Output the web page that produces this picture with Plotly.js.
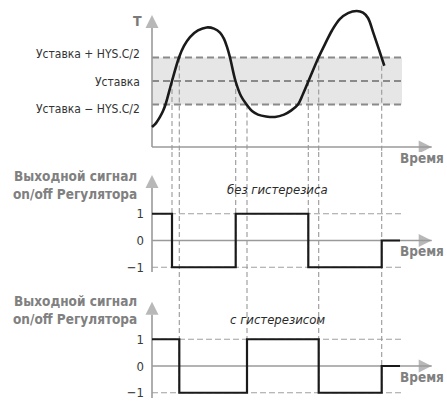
<!DOCTYPE html>
<html><head><meta charset="utf-8">
<script src="https://cdn.plot.ly/plotly-3.0.1.min.js"></script>
<style>html,body{margin:0;padding:0;background:#fff}</style>
</head><body><div id="chart" style="width:447px;height:401px"></div>
<script>
// ---------- DATA ----------
// Temperature curve (time units, temperature in HYS.C/2 units relative to setpoint)
const curveTime = [0, 0.4, 0.8, 1.1, 1.35, 2.0, 2.7, 3.2, 3.8, 4.6, 5.47, 6.2, 6.8, 7.2, 7.5, 7.8, 8.35, 8.9, 9.45, 10.0, 10.6, 11.4, 12.3, 13.2, 13.9, 14.6, 15.1, 15.65, 16.65, 17.3, 18.0, 18.8, 19.6, 20.47, 21.1, 21.6, 22.1, 22.65, 23.23];
const curveTemp = [-1.96, -1.79, -1.53, -1.28, -1.0, 0, 1.0, 1.49, 1.87, 2.15, 2.28, 2.23, 2.06, 1.79, 1.45, 1.0, 0, -0.64, -1.0, -1.28, -1.43, -1.51, -1.53, -1.43, -1.26, -1.0, -0.55, 0, 1.0, 1.57, 2.15, 2.64, 2.89, 2.98, 2.91, 2.68, 2.09, 1.40, 0.65];
// Setpoint band levels and labels
const setLevels = [1, 0, -1];
const setLabels = ['Уставка + HYS.C/2', 'Уставка', 'Уставка − HYS.C/2'];
// Output without hysteresis
const outNoHystTime = [0, 2.0, 8.37, 15.63, 22.97, 24.8];
const outNoHystValue = [1, -1, 1, -1, 0, 0];
// Output with hysteresis
const outHystTime = [0, 2.73, 9.5, 16.67, 22.97, 24.8];
const outHystValue = [1, -1, 1, -1, 0, 0];
// Output tick values/labels
const outTickValues = [1, 0, -1];
const outTickLabels = ['1', '0', '−1'];
// Switching moments (vertical guides) and the temperature level where each starts
const guideShortTime = [2.0, 8.37, 15.63];
const guideShortLevel = [0, 0, 0];
const guideLongTime = [2.73, 9.5, 16.67, 22.97];
const guideLongLevel = [1, -1, 1, 0.65];
const axisTitleT = 'T';
const axisTitleTime = 'Время';
const outTitle = 'Выходной сигнал<br>on/off Регулятора';
const captionNoHyst = 'без гистерезиса';
const captionHyst = 'с гистерезисом';

// ---------- LAYOUT ----------
const W = 447, H = 401;
const FONT = "'Liberation Sans Narrow','DejaVu Sans Condensed','Roboto Condensed','Liberation Sans',sans-serif";
const GREY = '#9a9a9a';
const bandEnd = 25;
const tipX = 27.97;
function yAx(pyTop, pyBot, zeroPy, ppu) {
  return {domain: [1 - pyBot / H, 1 - pyTop / H], range: [(zeroPy - pyBot) / ppu, (zeroPy - pyTop) / ppu]};
}
const a1 = yAx(0, 152, 81, 23.5);
const a2 = yAx(152, 280, 240.5, 26.75);
const a3 = yAx(280, 401, 366, 26.75);
const topAxisLevel = -2.81;

const traces = [];
function axisTrace(xs, ys, yaxis, sym) {
  traces.push({x: xs, y: ys, yaxis: yaxis, xaxis: 'x', mode: 'lines+markers', hoverinfo: 'skip',
    line: {color: GREY, width: 1.6},
    marker: {symbol: sym, size: [0, 13], color: GREY, line: {width: 0}}});
}
axisTrace([0, 0], [topAxisLevel, 2.81], 'y', 'arrow-up');
axisTrace([0, tipX], [topAxisLevel, topAxisLevel], 'y', 'arrow-right');
axisTrace([0, 0], [-1.18, 2.45], 'y2', 'arrow-up');
axisTrace([0, tipX], [0, 0], 'y2', 'arrow-right');
axisTrace([0, 0], [-1.2, 2.4], 'y3', 'arrow-up');
axisTrace([0, tipX], [0, 0], 'y3', 'arrow-right');

traces.push({x: curveTime, y: curveTemp, xaxis: 'x', yaxis: 'y', mode: 'lines',
  line: {color: '#1a1a1a', width: 2.6, shape: 'spline', smoothing: 1.0}, hoverinfo: 'skip'});
traces.push({x: outNoHystTime, y: outNoHystValue, xaxis: 'x', yaxis: 'y2', mode: 'lines',
  line: {color: '#1a1a1a', width: 2.2, shape: 'hv'}, hoverinfo: 'skip'});
traces.push({x: outHystTime, y: outHystValue, xaxis: 'x', yaxis: 'y3', mode: 'lines',
  line: {color: '#1a1a1a', width: 2.2, shape: 'hv'}, hoverinfo: 'skip'});

const shapes = [];
shapes.push({type: 'rect', xref: 'x', yref: 'y', x0: 0, x1: bandEnd, y0: setLevels[2], y1: setLevels[0],
  fillcolor: '#e6e6e6', line: {width: 0}, layer: 'below'});
setLevels.forEach(l => shapes.push({type: 'line', xref: 'x', yref: 'y', x0: 0, x1: bandEnd, y0: l, y1: l,
  line: {color: '#8a8a8a', width: 1.8, dash: '7px,4px'}, layer: 'below'}));
['y2', 'y3'].forEach(ya => [1, -1].forEach(l => shapes.push({type: 'line', xref: 'x', yref: ya, x0: 0, x1: bandEnd, y0: l, y1: l,
  line: {color: '#a0a0a0', width: 1.2, dash: '6px,3px'}, layer: 'below'})));
const vdash = {color: '#999', width: 1.1, dash: '5px,3px'};
guideShortTime.forEach((t, i) => {
  shapes.push({type: 'line', xref: 'x', yref: 'y', x0: t, x1: t, y0: guideShortLevel[i], y1: a1.range[0], line: vdash, layer: 'below'});
  shapes.push({type: 'line', xref: 'x', yref: 'y2', x0: t, x1: t, y0: a2.range[1], y1: -1, line: vdash, layer: 'below'});
});
guideLongTime.forEach((t, i) => {
  shapes.push({type: 'line', xref: 'x', yref: 'y', x0: t, x1: t, y0: guideLongLevel[i], y1: a1.range[0], line: vdash, layer: 'below'});
  shapes.push({type: 'line', xref: 'x', yref: 'y2', x0: t, x1: t, y0: a2.range[1], y1: a2.range[0], line: vdash, layer: 'below'});
  shapes.push({type: 'line', xref: 'x', yref: 'y3', x0: t, x1: t, y0: a3.range[1], y1: -1, line: vdash, layer: 'below'});
});

const annotations = [];
const labelShift = [4, -1, -4];
setLabels.forEach((s, i) => annotations.push({text: s, x: -1.0, y: setLevels[i], xref: 'x', yref: 'y', xanchor: 'right', yanchor: 'middle',
  yshift: labelShift[i], showarrow: false, font: {family: FONT, size: 12, color: '#333'}}));
annotations.push({text: axisTitleT, x: -0.8, y: 2.55, xref: 'x', yref: 'y', xanchor: 'right', yanchor: 'middle', showarrow: false,
  font: {family: FONT, size: 14, color: '#7a7a7a', weight: 'bold'}});
[['y', topAxisLevel], ['y2', 0], ['y3', 0]].forEach(([ya, lv]) => annotations.push({text: axisTitleTime, x: 24.6, y: lv, xref: 'x', yref: ya,
  xanchor: 'left', yanchor: 'middle', yshift: -11, showarrow: false, font: {family: FONT, size: 13.5, color: '#808080', weight: 'bold'}}));
[['y2', 2.07], ['y3', 2.11]].forEach(([ya, lv]) => annotations.push({text: outTitle, x: -1.3, y: lv, xref: 'x', yref: ya,
  xanchor: 'right', yanchor: 'middle', align: 'right', showarrow: false, font: {family: FONT, size: 13.5, color: '#808080', weight: 'bold'}}));
annotations.push({text: captionNoHyst, x: 12.5, y: 1.89, xref: 'x', yref: 'y2', showarrow: false,
  font: {family: FONT, size: 13, color: '#2a2a2a', style: 'italic'}});
annotations.push({text: captionHyst, x: 12.5, y: 1.72, xref: 'x', yref: 'y3', showarrow: false,
  font: {family: FONT, size: 13, color: '#2a2a2a', style: 'italic'}});

function outAxis(a) {
  return {domain: a.domain, range: a.range, anchor: 'free', position: 152 / W, showgrid: false, zeroline: false, showline: false,
    ticks: '', tickvals: outTickValues, ticktext: outTickLabels, ticklabelstandoff: 8,
    tickfont: {family: FONT, size: 13, color: '#3a3a3a'}, fixedrange: true};
}
const layout = {
  width: W, height: H, margin: {l: 0, r: 0, t: 0, b: 0}, paper_bgcolor: '#fff', plot_bgcolor: 'rgba(0,0,0,0)',
  showlegend: false, hovermode: false,
  xaxis: {range: [-15.2, 29.5], domain: [0, 1], visible: false, fixedrange: true, anchor: 'y'},
  yaxis: {domain: a1.domain, range: a1.range, visible: false, fixedrange: true},
  yaxis2: outAxis(a2),
  yaxis3: outAxis(a3),
  shapes: shapes, annotations: annotations
};
Plotly.newPlot('chart', traces, layout, {displayModeBar: false, staticPlot: true});
</script></body></html>
